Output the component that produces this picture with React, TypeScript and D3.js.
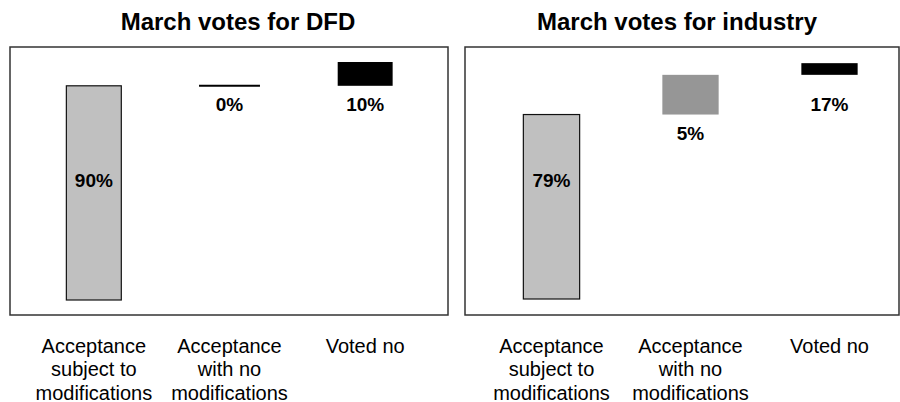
import React from "react";
import * as d3 from "d3";

const categories = ["Acceptance subject to modifications", "Acceptance with no modifications", "Voted no"];
const categoryLines = [
  ["Acceptance", "subject to", "modifications"],
  ["Acceptance", "with no", "modifications"],
  ["Voted no"],
];
const dfdBarValues = [90, 0, 10];
const dfdLabelValues = [90, 0, 10];
const industryBarValues = [79, 17, 5];
const industryLabelValues = [79, 5, 17];
const titles = ["March votes for DFD", "March votes for industry"];

const FONT = "'Liberation Sans', Arial, Helvetica, sans-serif";
const fills = ["#c0c0c0", "#969696", "#000000"];

type PanelProps = {
  title: string;
  titleX: number;
  box: [number, number, number, number];
  xRange: [number, number];
  yRange: [number, number];
  barValues: number[];
  labelValues: number[];
};

function Panel({ title, titleX, box, xRange, yRange, barValues, labelValues }: PanelProps) {
  const x = d3.scaleBand<string>().domain(categories).range(xRange).paddingInner(0.595).paddingOuter(0.2975);
  const y = d3.scaleLinear().domain([0, 100]).range(yRange);
  const bw = x.bandwidth();
  let cum = 0;
  const segs = barValues.map((v, i) => {
    const start = i === 0 ? 0 : cum;
    const end = start + v;
    cum = end;
    return { cat: categories[i], start, end, i, label: labelValues[i] };
  });
  const [bx0, by0, bx1, by1] = box;
  return (
    <g>
      <text x={titleX} y={30} textAnchor="middle" fontFamily={FONT} fontWeight="bold" fontSize={24} fill="#000">
        {title}
      </text>
      <rect x={bx0} y={by0} width={bx1 - bx0} height={by1 - by0} fill="#fff" stroke="#333" strokeWidth={1.5} />
      {segs.map((s) => {
        const x0 = x(s.cat)!;
        const top = y(s.end);
        const bottom = y(s.start);
        const cx = x0 + bw / 2;
        let labelY: number;
        if (s.i === 0) labelY = 187;
        else labelY = Math.max(bottom + 25, 111);
        return (
          <g key={s.cat}>
            {s.end - s.start > 0 ? (
              <rect
                x={x0}
                y={top}
                width={bw}
                height={bottom - top}
                fill={fills[s.i]}
                stroke={s.i === 0 ? "#111" : "none"}
                strokeWidth={s.i === 0 ? 1.2 : 0}
              />
            ) : (
              <line x1={x0 - 3} x2={x0 + bw + 3} y1={top} y2={top} stroke="#000" strokeWidth={2} />
            )}
            <text x={cx} y={labelY} textAnchor="middle" fontFamily={FONT} fontWeight="bold" fontSize={19} fill="#000">
              {`${s.label}%`}
            </text>
            {categoryLines[s.i].map((line, li) => (
              <text
                key={li}
                x={cx}
                y={352.5 + li * 23.5}
                textAnchor="middle"
                fontFamily={FONT}
                fontSize={20}
                fill="#000"
              >
                {line}
              </text>
            ))}
          </g>
        );
      })}
    </g>
  );
}

export default function App() {
  return (
    <svg width={900} height={402} style={{ position: "absolute", left: 0, top: 0, background: "#fff" }}>
      <rect x={0} y={0} width={900} height={402} fill="#fff" />
      <Panel
        title={titles[0]}
        titleX={238}
        box={[10, 47, 448, 315]}
        xRange={[26, 433]}
        yRange={[300, 62]}
        barValues={dfdBarValues}
        labelValues={dfdLabelValues}
      />
      <Panel
        title={titles[1]}
        titleX={677}
        box={[465, 47, 899, 315]}
        xRange={[482, 899]}
        yRange={[299, 65.5]}
        barValues={industryBarValues}
        labelValues={industryLabelValues}
      />
    </svg>
  );
}
